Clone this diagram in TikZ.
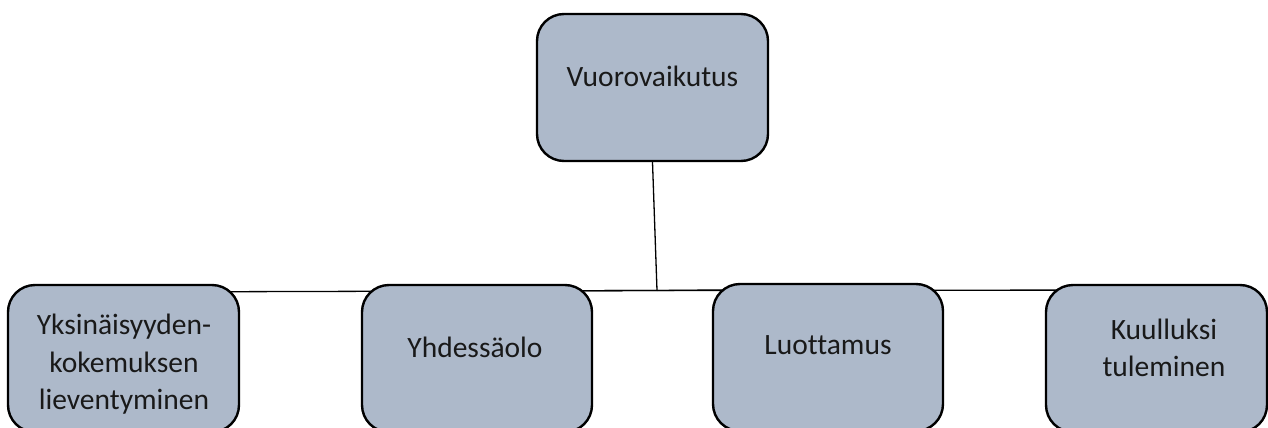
\documentclass[tikz,border=0pt]{standalone}
\usepackage{fontspec}
\setmainfont[Ligatures=NoCommon]{Carlito}
\usetikzlibrary{backgrounds}
\definecolor{boxfill}{HTML}{ADB9CA}
\tikzset{
  box/.style={draw=black, line width=2.4pt, fill=boxfill, rounded corners=27pt,
    minimum width=231pt, minimum height=147pt, inner sep=0pt},
  lbl/.style={font=\fontsize{29.5}{37.5}\selectfont, align=center, inner sep=0pt, text=black!90},
  link/.style={draw=black, line width=1.3pt}
}
\begin{document}
\begin{tikzpicture}[x=1pt, y=-1pt]
  \useasboundingbox (0,0) rectangle (1268,428);

  % parent and child boxes
  \node[box] (top) at (652.5,87.5) {};
  \node[box] (c1) at (123.5,358.5) {};
  \node[box, minimum width=230pt] (c2) at (477,358.5) {};
  \node[box, minimum width=230pt] (c3) at (828,357.5) {};
  \node[box, minimum width=221pt] (c4) at (1156.5,358.5) {};

  % labels
  \node[lbl, anchor=base] (ttop) at (652.5,86) {Vuorovaikutus};
  \node[lbl] (t1) at (124,364.5) {Yksinäisyyden-\\kokemuksen\\lieventyminen};
  \node[lbl, anchor=base] (t2) at (475,357) {Yhdessäolo};
  \node[lbl, anchor=base] (t3) at (828,354) {Luottamus};
  \node[lbl] (t4) at (1164,348) {Kuulluksi\\tuleminen};

  % connectors behind the boxes
  \coordinate (hub) at (657,290.5);
  \begin{scope}[on background layer]
    \draw[link] (top.south) -- (hub);
    \draw[link] (hub) -- (c1.center |- 0,292);
    \draw[link] (hub) -- (c2.center |- 0,291);
    \draw[link] (hub) -- (c3.center |- 0,289);
    \draw[link] (hub) -- (c4.center |- 0,290);
  \end{scope}
\end{tikzpicture}
\end{document}
